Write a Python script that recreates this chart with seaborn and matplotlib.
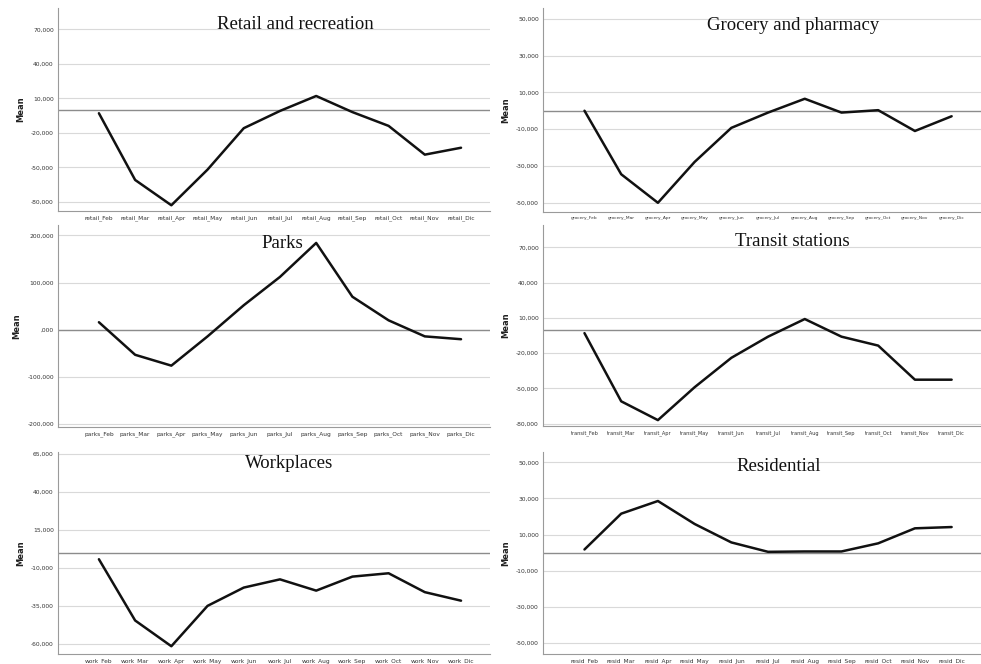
import matplotlib
matplotlib.use("Agg")
import matplotlib.pyplot as plt
import seaborn as sns
import pandas as pd
from matplotlib.ticker import FixedLocator, FuncFormatter

months = ["Feb", "Mar", "Apr", "May", "Jun", "Jul", "Aug", "Sep", "Oct", "Nov", "Dic"]

retail = [-3, -61, -83, -52, -16, -1, 12, -2, -14, -39, -33]
grocery = [0, -34.5, -50, -27.8, -9.3, -1, 6.5, -1, 0.3, -11, -3]
parks = [16, -53, -76, -14, 52, 112, 184, 70, 20, -14, -20]
transit = [-3, -61, -77, -49, -24, -6, 9, -6, -13.6, -42.6, -42.6]
work = [-4.4, -44.6, -61.5, -35, -23, -17.6, -25, -15.8, -13.6, -26, -31.6]
resid = [1.8, 21.6, 28.6, 15.9, 5.7, 0.5, 0.7, 0.7, 5.2, 13.5, 14.2]

panels = [
    dict(title="Retail and recreation", prefix="retail_", vals=retail,
         ticks=[70, 40, 10, -20, -50, -80], ylim=(-88, 88.5),
         box=(58, 8, 490, 211), tx=0.55, ty=0.92, xfs=4.2),
    dict(title="Grocery and pharmacy", prefix="grocery_", vals=grocery,
         ticks=[50, 30, 10, -10, -30, -50], ylim=(-55, 55.8),
         box=(543, 8, 981, 212), tx=0.57, ty=0.915, xfs=3.2),
    dict(title="Parks", prefix="parks_", vals=parks,
         ticks=[200, 100, 0, -100, -200], ylim=(-206, 222),
         box=(58, 225, 490, 427), tx=0.52, ty=0.91, xfs=4.2),
    dict(title="Transit stations", prefix="transit_", vals=transit,
         ticks=[70, 40, 10, -20, -50, -80], ylim=(-82, 89),
         box=(543, 225, 981, 426), tx=0.57, ty=0.92, xfs=3.6),
    dict(title="Workplaces", prefix="work_", vals=work,
         ticks=[65, 40, 15, -10, -35, -60], ylim=(-66.6, 66),
         box=(58, 452, 490, 654), tx=0.535, ty=0.945, xfs=4.2),
    dict(title="Residential", prefix="resid_", vals=resid,
         ticks=[50, 30, 10, -10, -30, -50], ylim=(-56, 55.7),
         box=(543, 452, 981, 654), tx=0.537, ty=0.93, xfs=4.2),
]

sns.set_theme(style="white")
plt.rcParams['font.family'] = ['DejaVu Sans']

W, H = 981, 664
fig = plt.figure(figsize=(W / 100, H / 100), dpi=100)
fig.patch.set_facecolor("white")


def fmt(v, pos):
    s = f"{v:.3f}".replace(".", ",")
    if s.startswith("0,"):
        s = s[1:]
    if s.startswith("-0,"):
        s = s[2:]
    return s


for p in panels:
    x0, y0, x1, y1 = p["box"]
    ax = fig.add_axes([x0 / W, 1 - y1 / H, (x1 - x0) / W, (y1 - y0) / H])
    df = pd.DataFrame({"var": [p["prefix"] + m for m in months], "Mean": p["vals"]})
    for t in p["ticks"]:
        ax.axhline(t, color="#d9d9d9", lw=0.8, zorder=0)
    ax.axhline(0, color="#8c8c8c", lw=1.0, zorder=1)
    sns.lineplot(data=df, x="var", y="Mean", sort=False, color="#111111",
                 lw=1.8, ax=ax, zorder=3)
    ax.set_ylim(*p["ylim"])
    ax.set_xlim(-1.13, 10.8)
    ax.yaxis.set_major_locator(FixedLocator(p["ticks"]))
    ax.yaxis.set_major_formatter(FuncFormatter(fmt))
    ax.tick_params(axis="y", labelsize=4.3, length=0, pad=3, colors="#333333")
    ax.tick_params(axis="x", labelsize=p["xfs"], length=0, pad=3, colors="#333333")
    ax.set_xlabel("")
    ax.set_ylabel("Mean", fontsize=6, fontweight="bold", labelpad=4, color="#222222")
    for s in ["top", "right"]:
        ax.spines[s].set_visible(False)
    for s in ["left", "bottom"]:
        ax.spines[s].set_color("#9a9a9a")
        ax.spines[s].set_linewidth(0.8)
    ax.grid(False)
    ax.text(p["tx"], p["ty"], p["title"], transform=ax.transAxes, ha="center",
            va="center", fontsize=13.5, family="Liberation Serif", color="#111111",
            zorder=5)

fig.savefig("out.png", dpi=100, facecolor="white")
